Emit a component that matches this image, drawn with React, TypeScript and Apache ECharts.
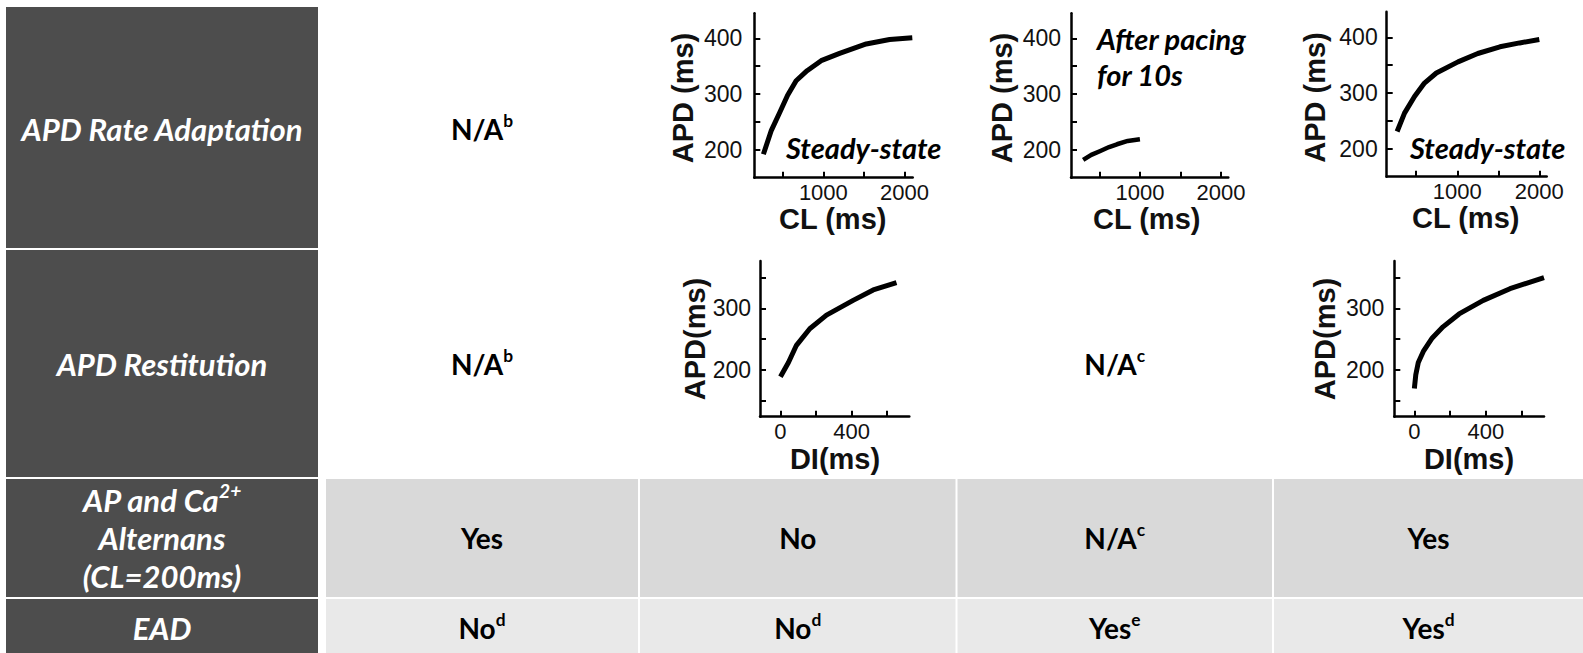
import React, { useEffect, useRef } from 'react';
import * as echarts from 'echarts';

// ---------- DATA ----------
const rowHeaders = ['APD Rate Adaptation', 'APD Restitution', 'EAD'];
const altHeaderLines = ['AP and Ca', 'Alternans', '(CL=200ms)'];
const altHeaderSup = '2+';

const row1Text = [{ t: 'N/A', s: 'b' }];
const row2Text = [{ t: 'N/A', s: 'b' }, { t: 'N/A', s: 'c' }];
const altRow = [{ t: 'Yes', s: '' }, { t: 'No', s: '' }, { t: 'N/A', s: 'c' }, { t: 'Yes', s: '' }];
const eadRow = [{ t: 'No', s: 'd' }, { t: 'No', s: 'd' }, { t: 'Yes', s: 'e' }, { t: 'Yes', s: 'd' }];

// APD rate adaptation curves: [CL (ms), APD (ms)]
const rateSteady1 = [[262, 192], [360, 235], [460, 266], [560, 298], [665, 324], [800, 342], [973, 360], [1200, 373], [1528, 390], [1816, 398], [2095, 401]];
const ratePaced2 = [[300, 182], [400, 191], [512, 198], [620, 205], [717, 210], [850, 216], [1000, 219]];
const rateSteady3 = [[267, 231], [357, 264], [479, 294], [600, 318], [745, 336], [1009, 356], [1250, 371], [1520, 383], [1760, 390], [2000, 396]];
// APD restitution curves: [DI (ms), APD (ms)]
const rest1 = [[0, 189], [45, 212], [90, 240], [165, 267], [259, 289], [409, 313], [522, 330], [653, 342]];
const rest2 = [[0, 170], [8, 192], [22, 212], [50, 230], [100, 252], [160, 270], [250, 291], [385, 313], [534, 332], [724, 350]];

const rateYTicks = [200, 250, 300, 350, 400];
const rateYLabels = [200, 300, 400];
const rateXTicks = [500, 1000, 1500, 2000];
const rateXLabels = [1000, 2000];
const restYTicks = [150, 200, 250, 300, 350];
const restYLabels = [200, 300];
const restXTicks = [0, 200, 400, 600];
const restXLabels = [0, 400];

const rateXName = 'CL (ms)';
const rateYName = 'APD (ms)';
const restXName = 'DI(ms)';
const restYName = 'APD(ms)';
const steadyNote = 'Steady-state';
const pacedNote = ['After pacing', 'for 10s'];

// ---------- STYLE / LAYOUT ----------
const DARK = '#4d4d4d';
const ROW3 = '#d9d9d9';
const ROW4 = '#e9e9e9';
const CAL = 'Lato, "Open Sans", sans-serif';
const ARIAL = '"Liberation Sans", Arial, sans-serif';

const colX = [[326, 638], [640, 955.5], [957.5, 1272], [1274, 1583]];
const rowY = [[7, 248], [250, 477], [479, 597], [599, 653]];
const hdrX: [number, number] = [6, 318];

const cx = (c: number) => (colX[c][0] + colX[c][1]) / 2;
const cy = (r: number) => (rowY[r][0] + rowY[r][1]) / 2;

const panels = [
  { grid: { left: 754.3, top: 13.3, width: 158.4, height: 164.4 }, x: [150, 2100], y: [150, 445], data: rateSteady1, kind: 'rate', lw: 5, ym: 12, yName: [682.7, 98], xName: [832.7, 219] },
  { grid: { left: 1071, top: 13.3, width: 157.3, height: 164.4 }, x: [150, 2090], y: [150, 445], data: ratePaced2, kind: 'rate', lw: 4.5, ym: 10, yName: [1001.7, 98], xName: [1146.7, 219] },
  { grid: { left: 1386.7, top: 11.7, width: 160, height: 165 }, x: [140, 2090], y: [150, 446], data: rateSteady3, kind: 'rate', lw: 5, ym: 9, yName: [1315, 97.5], xName: [1465.7, 218] },
  { grid: { left: 760, top: 261, width: 149.3, height: 155.7 }, x: [-115, 725], y: [124, 377], data: rest1, kind: 'rest', lw: 5, ym: 9, yName: [695, 339], xName: [835, 459] },
  { grid: { left: 1394.3, top: 261, width: 149.7, height: 155.7 }, x: [-112, 724], y: [124, 377], data: rest2, kind: 'rest', lw: 5, ym: 10, yName: [1325, 339], xName: [1469, 459] },
];

function richValue(t: string, s: string, size: number, color: string, italic = false) {
  return {
    text: s ? `{n|${t}}{s|${s}}` : `{n|${t}}`,
    rich: {
      n: { fontSize: size, fontFamily: CAL, fontWeight: 'bold', fontStyle: italic ? 'italic' : 'normal', fill: color, lineHeight: size * 1.2 },
      s: { fontSize: size * 0.62, fontFamily: CAL, fontWeight: 'bold', fontStyle: italic ? 'italic' : 'normal', fill: color, verticalAlign: 'top', lineHeight: size * 0.7 },
    },
  };
}

function cellText(x: number, y: number, t: string, s: string, size = 27, color = '#000', italic = false) {
  const rv = richValue(t, s, size, color, italic);
  return {
    type: 'text', x, y, z: 10,
    style: { text: rv.text, rich: rv.rich, align: 'center', verticalAlign: 'middle', fill: color },
  };
}

function buildOption() {
  const graphic: any[] = [];
  rowY.forEach(([y0, y1]) => {
    graphic.push({ type: 'rect', z: 1, shape: { x: hdrX[0], y: y0, width: hdrX[1] - hdrX[0], height: y1 - y0 }, style: { fill: DARK } });
  });
  colX.forEach(([x0, x1]) => {
    graphic.push({ type: 'rect', z: 1, shape: { x: x0, y: rowY[2][0], width: x1 - x0, height: rowY[2][1] - rowY[2][0] }, style: { fill: ROW3 } });
    graphic.push({ type: 'rect', z: 1, shape: { x: x0, y: rowY[3][0], width: x1 - x0, height: rowY[3][1] - rowY[3][0] }, style: { fill: ROW4 } });
  });
  const hx = (hdrX[0] + hdrX[1]) / 2;
  const HS = 31;
  graphic.push(cellText(hx, cy(0) + 1, rowHeaders[0], '', HS, '#fff', true));
  graphic.push(cellText(hx, cy(1), rowHeaders[1], '', HS, '#fff', true));
  graphic.push(cellText(hx, cy(3) + 2, rowHeaders[2], '', HS, '#fff', true));
  graphic.push(cellText(hx, cy(2) - 38, altHeaderLines[0], altHeaderSup, HS, '#fff', true));
  graphic.push(cellText(hx, cy(2), altHeaderLines[1], '', HS, '#fff', true));
  graphic.push(cellText(hx, cy(2) + 38, altHeaderLines[2], '', HS, '#fff', true));

  const BS = 28;
  graphic.push(cellText(cx(0), cy(0) + 1, row1Text[0].t, row1Text[0].s, BS));
  graphic.push(cellText(cx(0), cy(1), row2Text[0].t, row2Text[0].s, BS));
  graphic.push(cellText(cx(2), cy(1), row2Text[1].t, row2Text[1].s, BS));
  altRow.forEach((v, i) => graphic.push(cellText(cx(i), cy(2), v.t, v.s, BS)));
  eadRow.forEach((v, i) => graphic.push(cellText(cx(i), cy(3) + 2, v.t, v.s, BS)));

  panels.forEach((p) => {
    const yn = p.kind === 'rate' ? rateYName : restYName;
    const xn = p.kind === 'rate' ? rateXName : restXName;
    graphic.push({ type: 'text', x: p.yName[0], y: p.yName[1], rotation: Math.PI / 2, z: 10,
      style: { text: yn, fontSize: 29, fontFamily: ARIAL, fontWeight: 'bold', fill: '#111', align: 'center', verticalAlign: 'middle' } });
    graphic.push({ type: 'text', x: p.xName[0], y: p.xName[1], z: 10,
      style: { text: xn, fontSize: 29, fontFamily: ARIAL, fontWeight: 'bold', fill: '#111', align: 'center', verticalAlign: 'middle' } });
  });

  const noteStyle = { fontSize: 29, fontFamily: CAL, fontWeight: 'bold', fontStyle: 'italic', fill: '#000' };
  graphic.push({ type: 'text', x: 786, y: 147, z: 10, style: { ...noteStyle, text: steadyNote, align: 'left', verticalAlign: 'middle' } });
  graphic.push({ type: 'text', x: 1410, y: 147, z: 10, style: { ...noteStyle, text: steadyNote, align: 'left', verticalAlign: 'middle' } });
  graphic.push({ type: 'text', x: 1097, y: 38, z: 10, style: { ...noteStyle, text: pacedNote[0], align: 'left', verticalAlign: 'middle' } });
  graphic.push({ type: 'text', x: 1097, y: 74, z: 10, style: { ...noteStyle, text: pacedNote[1], align: 'left', verticalAlign: 'middle' } });

  const grid = panels.map((p) => ({ ...p.grid, containLabel: false, outerBoundsMode: 'none', show: false }));
  const axisCommon = {
    type: 'value' as const,
    splitLine: { show: false },
    axisLine: { show: true, onZero: false, lineStyle: { color: '#000', width: 2.5 } },
  };
  const fmt = (v: number) => String(v);
  const xAxis = panels.map((p, i) => ({
    ...axisCommon,
    gridIndex: i,
    min: p.x[0], max: p.x[1],
    axisTick: { show: true, inside: true, length: 6, customValues: p.kind === 'rate' ? rateXTicks : restXTicks, lineStyle: { color: '#000', width: 2 } },
    axisLabel: { show: true, customValues: p.kind === 'rate' ? rateXLabels : restXLabels, formatter: fmt, fontSize: 22, lineHeight: 20, fontFamily: ARIAL, color: '#111', margin: 5 },
  }));
  const yAxis = panels.map((p, i) => ({
    ...axisCommon,
    gridIndex: i,
    min: p.y[0], max: p.y[1],
    axisTick: { show: true, inside: true, length: 6, customValues: p.kind === 'rate' ? rateYTicks : restYTicks, lineStyle: { color: '#000', width: 2 } },
    axisLabel: { show: true, customValues: p.kind === 'rate' ? rateYLabels : restYLabels, formatter: fmt, fontSize: 23, fontFamily: ARIAL, color: '#111', margin: p.ym },
  }));
  const series = panels.map((p, i) => ({
    type: 'line', xAxisIndex: i, yAxisIndex: i, data: p.data, showSymbol: false, symbol: 'none',
    smooth: false,
    lineStyle: { color: '#000', width: p.lw, cap: 'butt', join: 'round' },
    silent: true,
  }));

  return {
    animation: false,
    backgroundColor: '#fff',
    grid, xAxis, yAxis, series, graphic,
  };
}

export default function App() {
  const ref = useRef<HTMLDivElement>(null);
  useEffect(() => {
    const chart = echarts.init(ref.current!, null, { renderer: 'svg' });
    chart.setOption(buildOption() as any);
    return () => chart.dispose();
  }, []);
  return <div ref={ref} style={{ position: 'absolute', left: 0, top: 0, width: 1583, height: 653 }} />;
}
